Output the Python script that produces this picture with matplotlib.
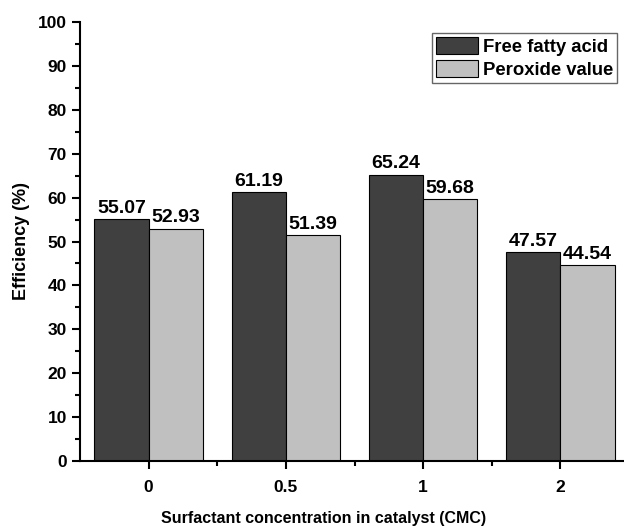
import numpy as np
import matplotlib.pyplot as plt
from matplotlib.ticker import MultipleLocator, FixedLocator

# dados
concentracoes = ["0", "0.5", "1", "2"]
acido_graxo = [55.07, 61.19, 65.24, 47.57]
peroxido = [52.93, 51.39, 59.68, 44.54]

plt.rcParams['font.family'] = ['Liberation Sans', 'DejaVu Sans']
plt.rcParams['font.weight'] = 'bold'

fig = plt.figure(figsize=(6.24, 5.27), dpi=100)
ax = fig.add_axes([80/624, 66/527, 549/624, 439/527])

x = np.arange(len(concentracoes))
w = 0.395

b1 = ax.bar(x - w/2, acido_graxo, w, color="#404040", edgecolor="black", linewidth=0.8, label="Free fatty acid")
b2 = ax.bar(x + w/2, peroxido, w, color="#c0c0c0", edgecolor="black", linewidth=0.8, label="Peroxide value")

for rects, vals in [(b1, acido_graxo), (b2, peroxido)]:
    for r, v in zip(rects, vals):
        ax.text(r.get_x() + r.get_width()/2, v + 0.5, f"{v:.2f}", ha="center", va="bottom",
                fontsize=14, fontweight="bold")

ax.set_xlim(-0.5, 3.5)
ax.set_ylim(0, 100)
ax.set_xticks(x)
ax.set_xticklabels(concentracoes)
ax.xaxis.set_minor_locator(FixedLocator([0.5, 1.5, 2.5]))
ax.yaxis.set_major_locator(MultipleLocator(10))
ax.yaxis.set_minor_locator(MultipleLocator(5))

for s in ["top", "right"]:
    ax.spines[s].set_visible(False)
for s in ["left", "bottom"]:
    ax.spines[s].set_linewidth(1.5)

ax.tick_params(axis="both", which="major", direction="out", length=6, width=1.5, labelsize=12.5)
ax.tick_params(axis="both", which="minor", direction="out", length=3.5, width=1.5)
ax.tick_params(axis="x", pad=8)

ax.set_ylabel("Efficiency (%)", fontsize=13, fontweight="bold", labelpad=5.5)
ax.set_xlabel("Surfactant concentration in catalyst (CMC)", fontsize=11.5, fontweight="bold", labelpad=11)
ax.xaxis.set_label_coords(244/549, -50/439)

leg = ax.legend(loc="upper left", bbox_to_anchor=(352/549, 1 - 11/439), fontsize=13.3,
                frameon=True, fancybox=False, edgecolor="#404040", borderpad=0.2,
                handlelength=2.3, handleheight=1.05, handletextpad=0.27, labelspacing=0.25,
                borderaxespad=0)
leg.get_frame().set_linewidth(1.0)

fig.savefig("out.png", dpi=100)
